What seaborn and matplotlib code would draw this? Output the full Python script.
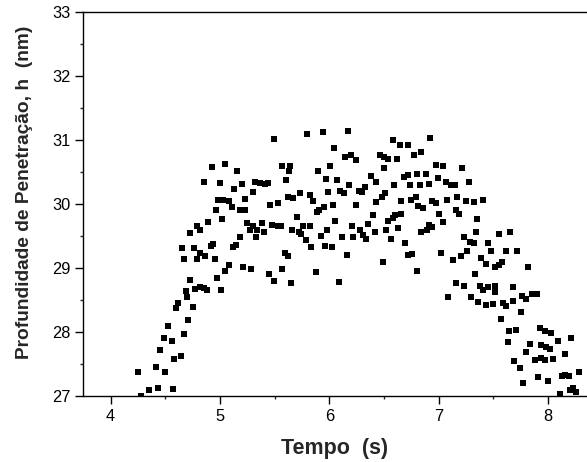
import matplotlib
matplotlib.use("Agg")
import matplotlib.pyplot as plt
import seaborn as sns
import pandas as pd
from matplotlib.ticker import MultipleLocator

# Data
tempo = [
    4.25, 4.28, 4.35, 4.43, 4.41, 4.45, 4.49, 4.50, 4.52, 4.56,
    4.57, 4.58, 4.60, 4.62, 4.64, 4.67, 4.70, 4.69, 4.71, 4.65,
    4.67, 4.73, 4.73, 4.75, 4.76, 4.79, 4.79, 4.82, 4.77, 4.82,
    4.85, 4.88, 4.82, 4.86, 4.89, 4.92, 4.94, 4.93, 4.85, 4.95,
    4.97, 4.96, 5.00, 5.01, 5.02, 4.98, 5.03, 5.05, 5.05, 5.08,
    5.08, 5.11, 5.13, 5.12, 5.15, 5.16, 5.18, 5.20, 5.18, 5.23,
    5.21, 5.28, 5.23, 5.25, 5.27, 5.30, 5.30, 5.34, 5.32, 5.37,
    5.41, 5.44, 5.33, 5.38, 5.40, 5.45, 5.49, 5.49, 5.46, 5.53,
    5.48, 5.53, 5.56, 5.57, 5.64, 5.57, 5.59, 5.62, 5.60, 5.63,
    5.62, 5.67, 5.65, 5.66, 5.70, 5.73, 5.72, 5.74, 5.76, 5.79,
    5.80, 5.82, 5.83, 5.82, 5.85, 5.88, 5.90, 5.89, 5.91, 5.94,
    5.95, 5.92, 5.97, 5.98, 5.96, 6.02, 5.99, 6.01, 6.03, 6.04,
    6.05, 6.07, 6.09, 6.10, 6.13, 6.12, 6.14, 6.16, 6.17, 6.18,
    6.20, 6.24, 6.21, 6.22, 6.24, 6.27, 6.30, 6.28, 6.31, 6.33,
    6.34, 6.35, 6.38, 6.40, 6.43, 6.42, 6.46, 6.50, 6.54, 6.62,
    6.43, 6.48, 6.51, 6.49, 6.50, 6.52, 6.54, 6.58, 6.60, 6.66,
    6.56, 6.58, 6.59, 6.63, 6.65, 6.72, 6.66, 6.69, 6.68, 6.72,
    6.72, 6.76, 6.74, 6.75, 6.79, 6.77, 6.84, 6.80, 6.80, 6.88,
    6.81, 6.86, 6.83, 6.91, 6.84, 6.89, 6.94, 6.92, 6.91, 6.94,
    6.98, 6.98, 7.04, 6.99, 7.00, 7.02, 7.04, 7.07, 7.08, 7.09,
    7.11, 7.15, 7.13, 7.16, 7.16, 7.17, 7.19, 7.21, 7.23, 7.23,
    7.25, 7.32, 7.20, 7.26, 7.28, 7.29, 7.32, 7.30, 7.33, 7.34,
    7.35, 7.36, 7.38, 7.41, 7.45, 7.52, 7.39, 7.43, 7.41, 7.43,
    7.50, 7.45, 7.48, 7.52, 7.55, 7.52, 7.55, 7.57, 7.58, 7.59,
    7.62, 7.68, 7.62, 7.63, 7.64, 7.71, 7.65, 7.68, 7.69, 7.72,
    7.74, 7.75, 7.76, 7.80, 7.77, 7.80, 7.82, 7.84, 7.85, 7.90,
    7.88, 7.94, 7.97, 7.91, 7.93, 7.97, 8.03, 7.94, 7.98, 8.02,
    8.00, 8.05, 8.09, 8.11, 8.13, 8.16, 8.19, 8.16, 8.21, 8.20,
    8.23, 8.26, 8.28,
]
profundidade = [
    27.38, 27.00, 27.10, 27.12, 27.46, 27.72, 27.91, 27.38, 28.10, 27.86,
    27.11, 27.58, 28.37, 28.46, 27.63, 27.97, 28.55, 28.64, 28.19, 29.32,
    29.14, 29.54, 28.82, 28.39, 29.31, 29.14, 29.66, 29.59, 28.67, 28.71,
    28.68, 28.66, 29.23, 29.18, 29.72, 29.34, 29.38, 30.58, 30.35, 29.14,
    28.85, 29.91, 30.33, 28.66, 29.77, 30.06, 30.06, 30.62, 28.96, 29.05,
    30.04, 29.96, 30.24, 29.33, 29.36, 30.51, 29.49, 30.32, 29.91, 29.91,
    29.02, 28.99, 30.08, 29.71, 29.59, 30.19, 29.65, 29.59, 30.35, 30.33,
    30.32, 30.33, 29.48, 29.70, 29.57, 28.91, 28.80, 31.01, 29.99, 30.01,
    29.67, 29.65, 29.65, 30.59, 30.59, 28.99, 29.24, 29.19, 30.38, 30.52,
    30.11, 30.10, 28.77, 29.60, 29.79, 30.17, 29.57, 29.53, 29.65, 29.44,
    31.09, 29.65, 29.33, 30.14, 30.04, 28.93, 30.52, 29.87, 29.91, 31.12,
    29.96, 29.50, 30.39, 29.60, 29.35, 29.33, 30.18, 30.59, 29.99, 30.88,
    29.74, 30.38, 28.78, 30.20, 30.17, 29.48, 30.74, 29.21, 31.14, 30.30,
    30.77, 30.69, 29.66, 29.49, 29.99, 30.21, 30.18, 29.59, 29.52, 30.27,
    29.46, 29.68, 30.43, 29.83, 30.34, 29.56, 30.76, 30.74, 30.70, 30.70,
    30.03, 30.11, 30.17, 29.10, 30.56, 29.59, 29.73, 29.78, 29.83, 29.85,
    29.45, 31.00, 30.30, 29.62, 30.92, 30.92, 30.05, 29.39, 30.42, 30.45,
    29.20, 29.22, 30.30, 30.06, 30.11, 30.77, 30.82, 28.96, 30.47, 30.47,
    29.97, 29.93, 30.29, 30.32, 29.57, 29.59, 29.64, 31.03, 29.67, 30.04,
    30.01, 30.61, 30.59, 30.41, 29.85, 29.23, 29.72, 30.35, 30.07, 28.55,
    30.30, 30.29, 29.13, 29.90, 28.77, 30.11, 29.85, 30.56, 28.72, 29.48,
    30.04, 30.03, 29.18, 29.26, 30.35, 29.40, 29.39, 28.55, 28.91, 29.56,
    29.77, 28.47, 28.72, 28.66, 28.71, 28.72, 29.15, 29.07, 30.07, 28.42,
    28.44, 29.39, 29.26, 29.02, 29.05, 28.63, 29.53, 28.21, 29.10, 28.46,
    28.40, 28.49, 29.27, 27.84, 28.02, 28.03, 29.56, 28.71, 27.54, 29.27,
    27.44, 28.32, 28.57, 28.52, 27.20, 27.68, 29.02, 27.81, 28.60, 28.59,
    27.56, 27.59, 27.56, 27.29, 28.06, 28.01, 27.98, 27.79, 27.77, 27.74,
    27.24, 27.58, 27.86, 27.03, 27.31, 27.33, 27.32, 27.66, 27.90, 27.09,
    27.12, 27.07, 27.38,
]
x_ticks = [4, 5, 6, 7, 8]
y_ticks = [27, 28, 29, 30, 31, 32, 33]

df = pd.DataFrame({"Tempo": tempo, "Profundidade": profundidade})

sns.set_theme(style="ticks")
plt.rcParams["font.family"] = ["Liberation Sans", "DejaVu Sans"]

W, H = 587, 462
fig = plt.figure(figsize=(W / 100, H / 100), dpi=100)
left, bottom, top = 82.7, 396, 12
ax = fig.add_axes([left / W, 1 - bottom / H, 1 - left / W, (bottom - top) / H])

sns.scatterplot(data=df, x="Tempo", y="Profundidade", marker="s", s=24,
                color="black", linewidth=0, ax=ax, clip_on=True)

ax.set_xlim(3.744, 8.357)
ax.set_ylim(27, 33)
ax.set_xticks(x_ticks)
ax.set_yticks(y_ticks)
ax.xaxis.set_minor_locator(MultipleLocator(0.5))
ax.yaxis.set_minor_locator(MultipleLocator(0.5))
ax.tick_params(which="major", direction="out", length=5.5, width=1.0,
               labelsize=11.8, colors="black", pad=3)
ax.tick_params(which="minor", direction="out", length=2.5, width=1.0)
ax.tick_params(axis="x", which="major", pad=4)

for s in ["left", "bottom", "top"]:
    ax.spines[s].set_visible(True)
    ax.spines[s].set_color("black")
    ax.spines[s].set_linewidth(1.0)
ax.spines["right"].set_visible(False)

ax.set_xlabel("Tempo  (s)", fontsize=15.5, fontweight="bold", labelpad=10)
ax.set_ylabel("Profundidade de Penetração, h  (nm)", fontsize=13.8,
              fontweight="bold")
ax.yaxis.set_label_coords(-0.098, 0.531)

fig.savefig("out.png", dpi=100)
